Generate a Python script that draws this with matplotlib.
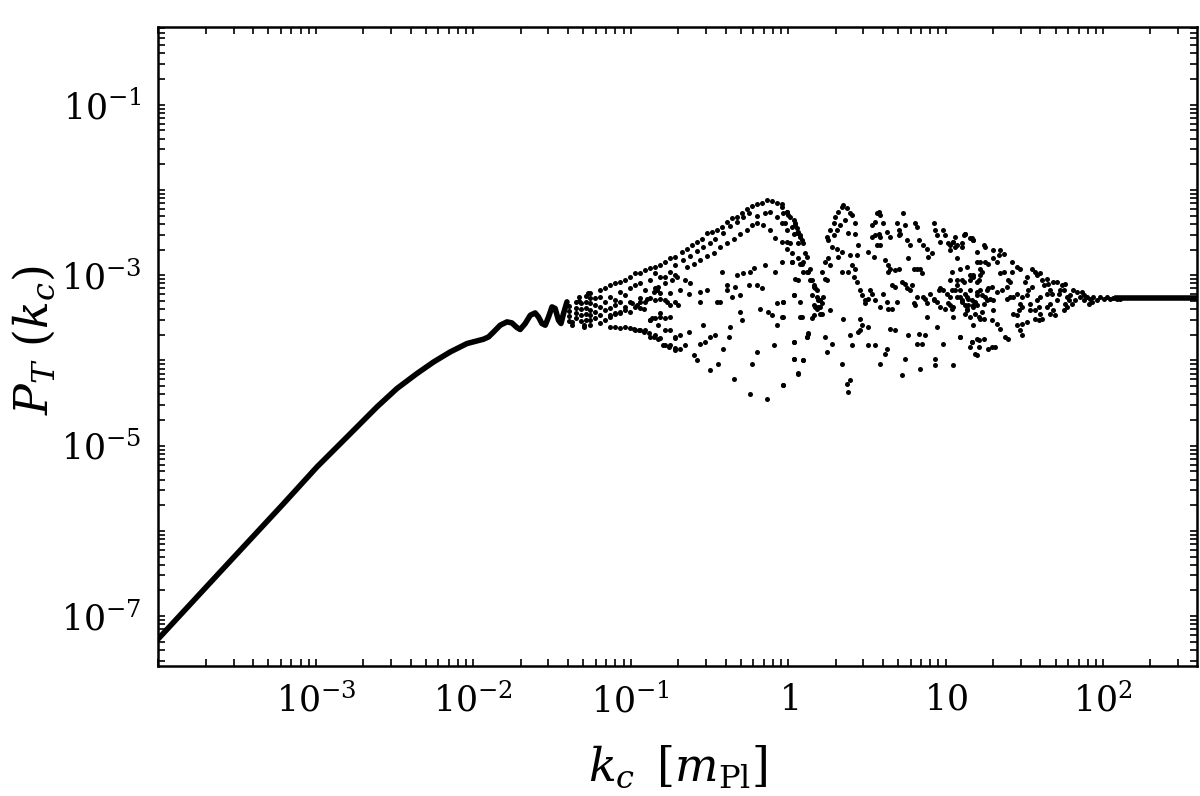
import numpy as np
import matplotlib
matplotlib.use("Agg")
import matplotlib.pyplot as plt
from matplotlib.ticker import LogLocator, NullFormatter

# all values are log10(k) and log10(P_T)

# smooth part (dots so dense they form a line)
curve_logk = [-4.00, -3.628, -3.205, -2.993, -2.781, -2.612, -2.485, -2.358, -2.252, -2.146,
              -2.040, -1.935, -1.903, -1.871, -1.829, -1.786, -1.755, -1.723, -1.702, -1.670,
              -1.638, -1.607, -1.586, -1.564, -1.543, -1.522, -1.500, -1.480, -1.459, -1.443,
              -1.427, -1.405]
curve_logp = [-7.265, -6.522, -5.680, -5.250, -4.859, -4.546, -4.330, -4.154, -4.018, -3.900,
              -3.802, -3.751, -3.724, -3.666, -3.587, -3.548, -3.560, -3.614, -3.637, -3.567,
              -3.470, -3.443, -3.490, -3.567, -3.587, -3.490, -3.372, -3.391, -3.528, -3.567,
              -3.450, -3.313]

# flat tail at high k
tail_k = [123, 160, 200, 250, 320, 400]
tail_p = [5.4e-4, 5.4e-4, 5.4e-4, 5.4e-4, 5.4e-4, 5.4e-4]

# last wiggles, where the dots start to separate
wiggle_logk = [-1.390, -1.390, -1.390, -1.390, -1.372, -1.372,
               -1.350, -1.350, -1.350, -1.350, -1.331, -1.331,
               -1.315, -1.315, -1.315, -1.315, -1.300, -1.300,
               -1.285, -1.285, -1.285, -1.285, -1.285, -1.270]
wiggle_logp = [-3.36, -3.42, -3.48, -3.54, -3.587, -3.55,
               -3.50, -3.44, -3.38, -3.32, -3.258, -3.30,
               -3.33, -3.40, -3.47, -3.54, -3.61, -3.58,
               -3.52, -3.45, -3.38, -3.31, -3.25, -3.211]

# fan just after the oscillations (0.05 < k < 0.2)
fan_logk = [-1.257, -1.257, -1.257, -1.257, -1.257, -1.257, -1.257,
            -1.226, -1.226, -1.226, -1.226,
            -1.194, -1.194, -1.194, -1.194, -1.194,
            -1.162, -1.162, -1.162, -1.162,
            -1.130, -1.130, -1.130, -1.130, -1.130,
            -1.099, -1.099, -1.099, -1.099, -1.099,
            -1.067, -1.067, -1.067, -1.067, -1.067,
            -1.035, -1.035, -1.035, -1.035,
            -1.003, -1.003, -1.003, -1.003, -1.003,
            -0.972, -0.972, -0.972, -0.972,
            -0.940, -0.940, -0.940, -0.940, -0.940,
            -0.908, -0.908, -0.908, -0.908,
            -0.876, -0.876, -0.876, -0.876, -0.876,
            -0.845, -0.845, -0.845, -0.845, -0.845, -0.845,
            -0.813, -0.813, -0.813, -0.813, -0.813,
            -0.781, -0.781, -0.781, -0.781, -0.781,
            -0.749, -0.749, -0.749, -0.749, -0.749, -0.749,
            -0.718, -0.718, -0.718, -0.718, -0.718, -0.718,
            -0.707, -0.739, -0.781, -0.824, -0.855, -0.897, -0.940, -0.770, -0.813, -0.834,
            -0.866, -0.813, -0.749, -0.697, -0.918, -0.961, -0.992, -1.035, -1.067, -1.099,
            -1.130, -0.781, -0.824, -0.876, -0.718, -0.760, -0.792, -0.824, -0.855, -0.887,
            -0.918, -0.950, -0.982, -0.718]
fan_logp = [-3.211, -3.270, -3.329, -3.411, -3.470, -3.528, -3.587,
            -3.270, -3.352, -3.434, -3.505,
            -3.176, -3.258, -3.376, -3.470, -3.564,
            -3.153, -3.317, -3.411, -3.528,
            -3.117, -3.258, -3.387, -3.493, -3.610,
            -3.094, -3.293, -3.352, -3.446, -3.610,
            -3.082, -3.200, -3.317, -3.446, -3.622,
            -3.059, -3.235, -3.411, -3.610,
            -3.023, -3.153, -3.317, -3.434, -3.622,
            -2.977, -3.117, -3.376, -3.646,
            -2.977, -3.094, -3.270, -3.387, -3.646,
            -2.941, -3.176, -3.317, -3.646,
            -2.918, -3.059, -3.270, -3.528, -3.728,
            -2.906, -2.977, -3.153, -3.293, -3.505, -3.704,
            -2.883, -3.023, -3.211, -3.446, -3.740,
            -2.847, -3.023, -3.293, -3.505, -3.822,
            -2.800, -2.965, -3.211, -3.352, -3.646, -3.822,
            -2.789, -2.883, -3.000, -3.317, -3.740, -3.857,
            -3.020, -3.059, -3.097, -3.137, -3.196, -3.274, -3.313, -3.313, -3.274, -3.176,
            -3.508, -3.490, -3.490, -3.352, -3.391, -3.352, -3.332, -3.372, -3.431, -3.450,
            -3.470, -3.646, -3.587, -3.528, -3.724, -3.842, -3.822, -3.743, -3.724, -3.684,
            -3.666, -3.646, -3.626, -3.880]

# first big lobe (0.2 < k < 1.3), upper strands
lobe_top_logk = [-0.675, -0.643, -0.612, -0.580, -0.548, -0.516, -0.485, -0.453, -0.421, -0.389,
                 -0.358, -0.326, -0.294, -0.262, -0.231, -0.199, -0.167, -0.135, -0.104, -0.072,
                 -0.040, -0.008, 0.013, 0.044, 0.076, 0.097,
                 -0.665, -0.622, -0.580, -0.538, -0.495, -0.464, -0.411, -0.368, -0.326, -0.284,
                 -0.252, -0.199, -0.146, -0.114, -0.072, -0.040, -0.008, 0.023, 0.055,
                 -0.643, -0.601, -0.559, -0.516, -0.474, -0.432, -0.389, -0.347, -0.305, -0.262,
                 -0.231, -0.199, -0.157, -0.114, -0.083, -0.040, -0.008, 0.023, 0.065]
lobe_top_logp = [-2.726, -2.687, -2.648, -2.609, -2.581, -2.510, -2.492, -2.472, -2.433, -2.374,
                 -2.334, -2.316, -2.276, -2.229, -2.190, -2.166, -2.151, -2.120, -2.128, -2.158,
                 -2.198, -2.257, -2.316, -2.413, -2.530, -2.628,
                 -2.824, -2.777, -2.715, -2.668, -2.628, -2.581, -2.503, -2.425, -2.374, -2.323,
                 -2.276, -2.307, -2.276, -2.257, -2.316, -2.393, -2.472, -2.433, -2.510,
                 -2.903, -2.863, -2.824, -2.777, -2.738, -2.668, -2.628, -2.581, -2.519, -2.472,
                 -2.413, -2.386, -2.413, -2.472, -2.569, -2.609, -2.687, -2.745, -2.804]

# first big lobe, middle and lower points
lobe_low_logk = [-0.622, -0.559, -0.516, -0.421, -0.389, -0.337, -0.326, -0.284, -0.252, -0.241,
                 -0.219, -0.199, -0.167, -0.146, -0.083, -0.040, 0.023, 0.076, 0.097, 0.129,
                 0.140, 0.161, 0.182, 0.192, 0.171, 0.203, 0.214, 0.150, 0.076, 0.034,
                 -0.030, -0.040, -0.072, -0.104, -0.305, -0.358, -0.432, -0.559, -0.654,
                 -0.686, -0.654, -0.633, -0.601, -0.580, -0.559, -0.527, -0.495, -0.464, -0.443,
                 -0.495, -0.411, -0.379, -0.347, -0.294, -0.241, -0.199, -0.135, -0.093, -0.072,
                 -0.030, 0.034, 0.034, 0.065, 0.097, 0.119, 0.129, -0.231, -0.125, -0.178,
                 -0.305, -0.368, -0.389, -0.453, -0.538, -0.633, -0.686, -0.686]
lobe_low_logp = [-3.097, -3.196, -3.176, -2.961, -3.117, -3.137, -3.000, -2.980, -3.117, -2.961,
                 -2.921, -3.117, -3.156, -2.883, -2.961, -2.844, -2.844, -2.863, -2.961, -2.961,
                 -3.059, -3.137, -3.176, -3.293, -3.372, -3.372, -3.450, -3.508, -3.490, -3.235,
                 -3.313, -3.490, -3.332, -3.470, -3.235, -3.255, -3.313, -3.313, -3.059,
                 -3.861, -3.822, -3.666, -3.939, -3.998, -3.802, -3.783, -3.724, -3.704, -4.037,
                 -4.115, -3.861, -3.724, -4.213, -3.528, -4.389, -3.900, -4.448, -3.822, -3.587,
                 -4.291, -3.783, -3.978, -4.154, -3.998, -3.724, -3.684, -4.037, -3.431, -3.391,
                 -3.431, -3.607, -3.176, -3.313, -3.587, -3.215, -3.176, -3.704]

# 1 < k < 17
mid_logk = [-0.040, -0.030, -0.009, 0.002, -0.019, 0.034, 0.044, 0.055, 0.065, 0.034,
            0.076, 0.087, 0.065, 0.013, -0.009, 0.108, 0.118, 0.097, 0.087, 0.023,
            0.044, 0.065, 0.140, 0.118, 0.150, 0.161, 0.171, 0.150, 0.182, 0.203,
            0.224, 0.214, 0.192, 0.182, 0.161, 0.076, 0.034, -0.030, 0.087, 0.161,
            0.203, -0.030, 0.118, 0.129, 0.034, 0.034, 0.097, 0.065, -0.030, 0.235,
            0.277, 0.245, 0.267,
            0.245, 0.267, 0.288, 0.298, 0.319, 0.341, 0.351, 0.372, 0.394, 0.404,
            0.362, 0.330, 0.309, 0.288, 0.256, 0.277, 0.309, 0.341, 0.319, 0.256,
            0.235, 0.267, 0.214, 0.235, 0.245, 0.341, 0.383, 0.404, 0.425, 0.415,
            0.436, 0.394, 0.436, 0.446, 0.425, 0.383, 0.425, 0.351, 0.394, 0.404,
            0.457, 0.341, 0.372, 0.394, 0.383,
            0.531, 0.552, 0.563, 0.574, 0.584, 0.605, 0.626, 0.648, 0.531, 0.552,
            0.574, 0.584, 0.510, 0.542, 0.563, 0.584, 0.616, 0.637, 0.648, 0.679,
            0.701, 0.637, 0.690, 0.701, 0.711, 0.732, 0.743, 0.701, 0.753, 0.775,
            0.764, 0.796, 0.817, 0.838, 0.849, 0.817, 0.806, 0.828, 0.859, 0.880,
            0.891, 0.912, 0.923, 0.933, 0.944, 0.965, 0.986, 0.997, 1.018, 1.029,
            1.050, 1.071, 1.103, 1.124, 1.156, 1.177, 1.198, 1.219,
            0.457, 0.468, 0.489, 0.489, 0.510, 0.521, 0.531, 0.552, 0.584, 0.605,
            0.626, 0.637, 0.658, 0.679, 0.658, 0.690, 0.722, 0.743, 0.753, 0.775,
            0.785, 0.796, 0.806, 0.817, 0.859, 0.870, 0.880, 0.902, 0.923, 0.955,
            0.965, 0.986, 1.008, 1.018, 1.029, 1.060, 1.071, 1.103, 1.124, 1.135,
            1.145, 1.166, 1.177, 1.198, 1.187, 1.209, 1.092, 1.103, 1.124, 0.923,
            0.944, 0.965, 0.997, 1.039, 1.050, 1.135, 1.156, 1.177, 1.209, 1.219,
            0.457, 0.446, 0.468, 0.510, 0.510, 0.552, 0.584, 0.626, 0.616, 0.648,
            0.679, 0.722, 0.743, 0.764, 0.817, 0.828, 0.849, 0.870, 0.880, 0.933,
            0.944, 0.933, 0.986, 1.050, 1.092, 1.166, 1.187, 1.209, 0.838]
mid_logp = [-2.159, -2.276, -2.256, -2.295, -2.393, -2.354, -2.393, -2.452, -2.491, -2.511,
            -2.550, -2.589, -2.628, -2.628, -2.609, -2.745, -2.785, -2.843, -2.863, -2.843,
            -3.039, -3.059, -2.922, -2.961, -3.059, -3.117, -3.156, -3.235, -3.254, -3.293,
            -3.254, -3.332, -3.372, -3.391, -3.352, -3.313, -3.235, -3.313, -3.489, -3.469,
            -3.450, -3.489, -3.724, -3.685, -3.782, -3.978, -3.998, -4.146, -4.291, -3.724,
            -3.802, -3.900, -3.411,
            -2.550, -2.472, -2.393, -2.315, -2.256, -2.198, -2.178, -2.217, -2.276, -2.295,
            -2.354, -2.413, -2.472, -2.530, -2.589, -2.667, -2.687, -2.726, -2.785, -2.804,
            -2.843, -2.882, -2.961, -3.039, -3.051, -2.961, -2.961, -2.882, -2.922, -3.019,
            -3.078, -2.765, -2.765, -2.648, -2.511, -2.503, -2.393, -3.509, -3.704, -3.822,
            -3.645, -4.037, -4.272, -4.232, -4.369,
            -2.413, -2.374, -2.276, -2.256, -2.295, -2.393, -2.491, -2.550, -2.550, -2.530,
            -2.511, -2.550, -2.726, -2.785, -2.648, -2.648, -2.824, -2.882, -2.922, -2.941,
            -2.922, -2.961, -2.393, -2.472, -2.511, -2.276, -2.413, -2.530, -2.589, -2.648,
            -2.804, -2.922, -2.922, -2.922, -2.980, -2.432, -2.393, -2.589, -2.648, -2.687,
            -2.785, -2.745, -2.393, -2.472, -2.530, -2.609, -2.472, -2.530, -2.628, -2.648,
            -2.609, -2.648, -2.667, -2.511, -2.569, -2.589, -2.843, -2.922,
            -3.176, -3.235, -3.293, -3.332, -3.274, -3.176, -3.215, -3.293, -3.372, -3.215,
            -3.313, -3.391, -3.391, -3.137, -3.117, -3.313, -3.078, -3.098, -3.156, -3.176,
            -3.117, -3.332, -3.352, -3.254, -3.254, -3.274, -3.332, -3.215, -3.274, -3.176,
            -3.156, -3.176, -3.215, -3.332, -3.352, -3.176, -3.059, -3.059, -3.215, -3.254,
            -3.274, -3.293, -3.352, -3.352, -3.450, -3.489, -3.254, -3.313, -3.352, -3.293,
            -3.313, -3.372, -3.391, -3.391, -3.489, -3.391, -3.059, -3.000, -3.059, -3.000,
            -3.509, -3.665, -3.587, -3.606, -3.822, -3.822, -4.037, -3.861, -3.919, -3.626,
            -3.645, -4.174, -3.978, -3.704, -3.802, -3.685, -3.802, -3.704, -3.489, -3.978,
            -3.606, -4.056, -3.802, -4.056, -3.724, -3.782, -3.919, -3.763, -4.096]

# 10 < k < 130, funnel converging onto the plateau
high_logk = [1.029, 1.050, 1.061, 1.071, 1.061, 1.114, 1.124, 1.103, 1.167, 1.177,
             1.241, 1.251, 1.198, 1.304, 1.347, 1.368, 1.336, 1.040, 1.093, 1.135,
             1.029, 1.071, 1.114, 1.093, 1.040, 1.029, 1.071, 1.103, 1.050, 1.135,
             1.145, 1.156, 1.156, 1.177, 1.198, 1.230, 1.220, 1.251, 1.272, 1.304,
             1.325, 1.347, 1.368, 1.421, 1.452, 1.474, 1.421, 1.410, 1.399, 1.389,
             1.357, 1.325, 1.294, 1.272, 1.262, 1.220, 1.198, 1.198, 1.230, 1.251,
             1.283, 1.304, 1.241, 1.262, 1.177, 1.188, 1.156, 1.124, 1.220, 1.241,
             1.230, 1.304, 1.294, 1.325, 1.347, 1.177, 1.093, 1.167, 1.198, 1.241,
             1.156, 1.209, 1.272, 1.294, 1.315, 1.198, 1.378, 1.399, 1.431, 1.452,
             1.463, 1.484, 1.474, 1.484, 1.452, 1.431, 1.410, 1.389, 1.516, 1.526,
             1.548, 1.505, 1.516, 1.548, 1.569, 1.579, 1.601, 1.611, 1.622, 1.643,
             1.653, 1.664, 1.675, 1.643, 1.601, 1.579, 1.590, 1.569, 1.601, 1.537,
             1.537, 1.516, 1.484, 1.474, 1.484, 1.452, 1.569, 1.590, 1.611, 1.643,
             1.664, 1.685, 1.696, 1.664, 1.706, 1.717, 1.728, 1.738, 1.759, 1.685,
             1.706, 1.749, 1.770, 1.781, 1.791, 1.812, 1.833, 1.823, 1.802, 1.770,
             1.749, 1.759, 1.855, 1.865, 1.876, 1.897, 1.876, 1.918, 1.939, 1.960,
             1.929, 1.908, 1.982, 2.003, 2.024, 2.045, 2.066, 2.088, 2.109]
high_logp = [-2.706, -2.609, -2.667, -2.804, -2.550, -2.530, -2.511, -2.628, -2.569, -2.589,
             -2.648, -2.667, -2.726, -2.706, -2.706, -2.746, -2.765, -2.961, -2.922, -2.902,
             -3.059, -3.117, -3.078, -3.176, -3.176, -3.254, -3.254, -3.293, -3.372, -3.411,
             -3.352, -3.176, -3.000, -3.020, -3.078, -2.961, -2.843, -2.843, -2.863, -2.804,
             -2.843, -2.980, -2.961, -2.843, -2.902, -2.922, -2.961, -3.078, -3.059, -3.137,
             -3.176, -3.196, -3.137, -3.156, -3.176, -3.176, -3.196, -3.235, -3.235, -3.254,
             -3.274, -3.293, -3.333, -3.293, -3.372, -3.313, -3.489, -3.450, -3.509, -3.509,
             -3.430, -3.411, -3.528, -3.567, -3.626, -3.587, -3.724, -3.783, -3.743, -3.743,
             -3.841, -3.841, -3.861, -3.841, -3.841, -3.939, -3.724, -3.743, -3.450, -3.470,
             -3.411, -3.372, -3.333, -3.254, -3.215, -3.254, -3.254, -3.274, -3.235, -3.176,
             -3.137, -3.078, -3.020, -2.922, -2.961, -3.000, -2.980, -3.059, -3.117, -3.039,
             -3.098, -3.176, -3.215, -3.215, -3.254, -3.293, -3.372, -3.411, -3.450, -3.333,
             -3.411, -3.548, -3.567, -3.646, -3.704, -3.587, -3.509, -3.528, -3.509, -3.372,
             -3.333, -3.411, -3.470, -3.450, -3.293, -3.215, -3.176, -3.117, -3.098, -3.078,
             -3.078, -3.176, -3.254, -3.293, -3.235, -3.176, -3.196, -3.293, -3.333, -3.372,
             -3.411, -3.333, -3.254, -3.196, -3.235, -3.254, -3.293, -3.274, -3.254, -3.293,
             -3.313, -3.333, -3.254, -3.274, -3.254, -3.274, -3.262, -3.274, -3.274]

plt.rcParams['font.family'] = 'DejaVu Serif'
plt.rcParams['mathtext.fontset'] = 'dejavuserif'

fig = plt.figure(figsize=(12, 7.96), dpi=100)
ax = fig.add_axes([0.132, 0.163, 0.8655, 0.803])

scatter_logk = np.concatenate([wiggle_logk, fan_logk, lobe_top_logk, lobe_low_logk, mid_logk, high_logk])
scatter_logp = np.concatenate([wiggle_logp, fan_logp, lobe_top_logp, lobe_low_logp, mid_logp, high_logp])

ax.plot(10 ** np.array(curve_logk), 10 ** np.array(curve_logp), color='black', lw=4.0,
        solid_capstyle='round', solid_joinstyle='round')
ax.plot(tail_k, tail_p, color='black', lw=4.0)
ax.scatter(10 ** scatter_logk, 10 ** scatter_logp, s=13, c='black', linewidths=0)

ax.set_xscale('log')
ax.set_yscale('log')

ax.set_xticks([1e-4, 1e-3, 1e-2, 1e-1, 1, 10, 100])
ax.set_xticklabels(['', r'$10^{-3}$', r'$10^{-2}$', r'$10^{-1}$', r'$1$', r'$10$', r'$10^{2}$'])
ax.set_yticks([1e-8, 1e-7, 1e-6, 1e-5, 1e-4, 1e-3, 1e-2, 1e-1, 1])
ax.set_yticklabels(['', r'$10^{-7}$', '', r'$10^{-5}$', '', r'$10^{-3}$', '', r'$10^{-1}$', ''])
for axis in (ax.xaxis, ax.yaxis):
    axis.set_minor_locator(LogLocator(base=10, subs=np.arange(2, 10), numticks=30))
    axis.set_minor_formatter(NullFormatter())

# limits after the ticks, otherwise set_yticks widens the view
ax.set_xlim(1.0e-4, 395)
ax.set_ylim(2.58e-8, 0.815)

ax.tick_params(which='both', direction='in', top=True, right=True, length=5, width=1.2)
ax.tick_params(which='major', labelsize=25, pad=12)
for sp in ax.spines.values():
    sp.set_linewidth(1.8)

ax.set_xlabel(r'$k_c\ \,[m_{\rm Pl}]$', fontsize=33)
ax.set_ylabel(r'$P_T\ (k_c)$', fontsize=33)
ax.xaxis.set_label_coords(0.5, -0.122)
ax.yaxis.set_label_coords(-0.097, 0.51)

fig.savefig('out.png', dpi=100)
